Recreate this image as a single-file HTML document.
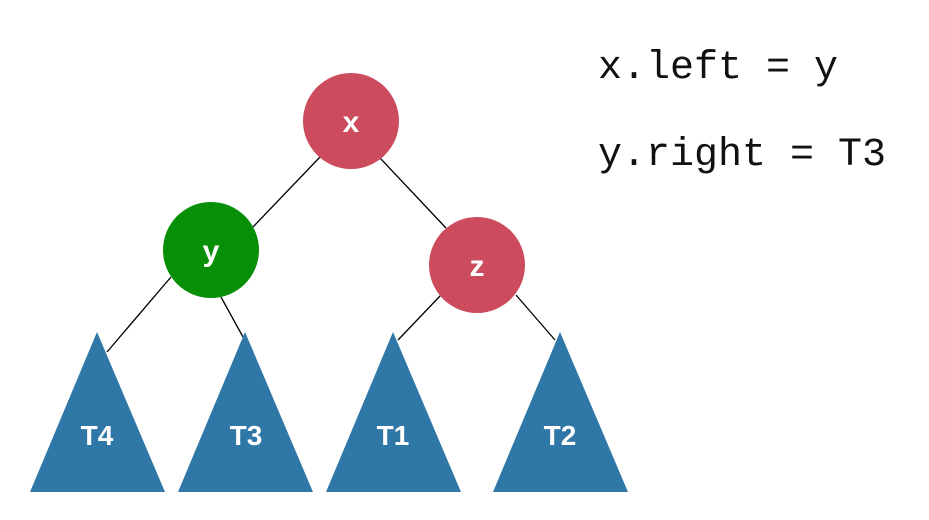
<!DOCTYPE html>
<html><head><style>
html,body{margin:0;padding:0;background:#fff;}
</style></head><body>
<svg width="929" height="515" viewBox="0 0 929 515" xmlns="http://www.w3.org/2000/svg">
<g stroke="#000" stroke-width="1.3">
<line x1="320" y1="157" x2="253" y2="227"/>
<line x1="380" y1="158" x2="446" y2="228"/>
<line x1="171" y1="277" x2="107" y2="352"/>
<line x1="221" y1="297" x2="243" y2="337"/>
<line x1="441" y1="295" x2="398" y2="340"/>
<line x1="516" y1="295" x2="555" y2="340"/>
</g>
<g fill="#2f77a6">
<polygon points="97,332 165,492 30,492"/>
<polygon points="245,332 313,492 178,492"/>
<polygon points="393,332 461,492 326,492"/>
<polygon points="560,332 628,492 493,492"/>
</g>
<circle cx="351" cy="121" r="48" fill="#cc4b5c"/>
<circle cx="211" cy="250" r="48" fill="#079007"/>
<circle cx="477" cy="265" r="48" fill="#cc4b5c"/>
<g fill="#fff" font-family="Liberation Sans, sans-serif" font-weight="bold" text-anchor="middle">
<text x="351" y="132" font-size="30">x</text>
<text x="211" y="261" font-size="30">y</text>
<text x="477" y="276" font-size="30">z</text>
<text x="97" y="445" font-size="28">T4</text>
<text x="246" y="445" font-size="28">T3</text>
<text x="393" y="445" font-size="28">T1</text>
<text x="560" y="445" font-size="28">T2</text>
</g>
<g fill="#111" font-family="Liberation Mono, DejaVu Sans Mono, monospace" font-size="40">
<text x="598" y="78">x.left = y</text>
<text x="598" y="165">y.right = T3</text>
</g>
</svg>
</body></html>
